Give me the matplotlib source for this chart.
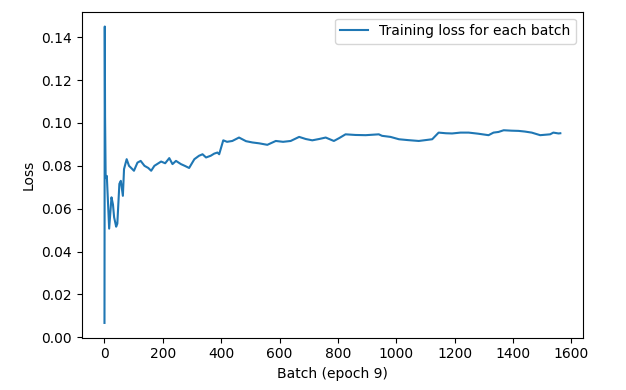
import matplotlib

matplotlib.use("Agg")
import matplotlib.pyplot as plt

# running-average loss, (batch, loss)
batches = [
    0, 1, 2, 4, 8, 16, 24, 29, 33, 40, 44, 51, 56, 63, 67, 76, 84, 90, 101,
    113, 124, 137, 150, 160, 171, 194, 208, 222, 233, 245, 262, 275, 290,
    308, 324, 336, 348, 364, 376, 387, 393, 407, 420, 438, 461, 485, 507,
    530, 558, 587, 612, 638, 667, 690, 712, 735, 758, 786, 805, 826, 860,
    895, 940, 951, 980, 1009, 1040, 1077, 1100, 1123, 1145, 1170, 1191,
    1220, 1248, 1280, 1316, 1333, 1350, 1368, 1395, 1419, 1440, 1464, 1493,
    1510, 1527, 1538, 1556, 1562,
]
loss = [
    0.0067, 0.145, 0.103, 0.0746, 0.0753, 0.0507, 0.0653, 0.0620, 0.0560,
    0.0516, 0.0530, 0.0716, 0.0730, 0.0660, 0.0785, 0.0831, 0.0800, 0.0792,
    0.0777, 0.0815, 0.0823, 0.0800, 0.0790, 0.0777, 0.0800, 0.0820, 0.0812,
    0.0836, 0.0808, 0.0823, 0.0808, 0.0800, 0.0790, 0.0831, 0.0847, 0.0854,
    0.0839, 0.0847, 0.0857, 0.0862, 0.0854, 0.0919, 0.0912, 0.0916, 0.0932,
    0.0915, 0.0909, 0.0905, 0.0898, 0.0916, 0.0912, 0.0916, 0.0935, 0.0925,
    0.0919, 0.0925, 0.0932, 0.0916, 0.0930, 0.0947, 0.0944, 0.0943, 0.0947,
    0.0940, 0.0935, 0.0924, 0.0920, 0.0916, 0.0920, 0.0924, 0.0955, 0.0952,
    0.0951, 0.0955, 0.0955, 0.0950, 0.0943, 0.0955, 0.0958, 0.0966, 0.0964,
    0.0963, 0.0960, 0.0955, 0.0943, 0.0945, 0.0947, 0.0955, 0.0951, 0.0952,
]

fig = plt.figure(figsize=(6.26, 3.9), dpi=100)
ax = fig.add_axes([0.1305, 0.134, 0.801, 0.836])
ax.plot(batches, loss, color="tab:blue", linewidth=1.5, label="Training loss for each batch")
ax.set_xlabel("Batch (epoch 9)")
ax.set_ylabel("Loss")
ax.set_xticks(range(0, 1601, 200))
ax.set_yticks([0.0, 0.02, 0.04, 0.06, 0.08, 0.10, 0.12, 0.14])
ax.legend(loc="upper right")
fig.savefig("out.png", dpi=100)
